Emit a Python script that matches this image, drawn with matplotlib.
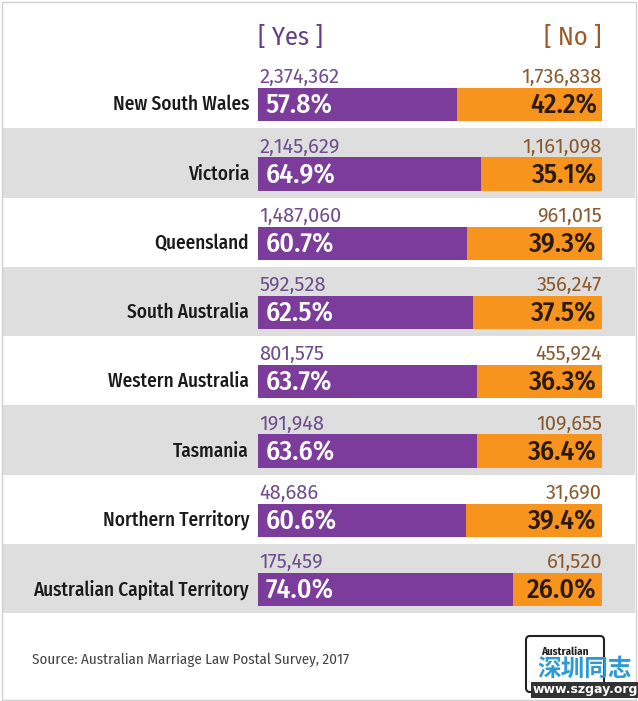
import matplotlib
matplotlib.use("Agg")
import matplotlib.pyplot as plt
from matplotlib.patches import Rectangle, FancyBboxPatch

states = ["New South Wales", "Victoria", "Queensland", "South Australia",
          "Western Australia", "Tasmania", "Northern Territory",
          "Australian Capital Territory"]
yes_pct = [57.8, 64.9, 60.7, 62.5, 63.7, 63.6, 60.6, 74.0]
no_pct = [42.2, 35.1, 39.3, 37.5, 36.3, 36.4, 39.4, 26.0]
yes_votes = ["2,374,362", "2,145,629", "1,487,060", "592,528",
             "801,575", "191,948", "48,686", "175,459"]
no_votes = ["1,736,838", "1,161,098", "961,015", "356,247",
            "455,924", "109,655", "31,690", "61,520"]

FONT = ["Fira Sans Condensed", "PT Sans Narrow", "DejaVu Sans"]
NUMFONT = ["Fira Sans", "DejaVu Sans"]
plt.rcParams["font.family"] = FONT

W, H = 638, 701
fig = plt.figure(figsize=(W / 100, H / 100), dpi=100)
fig.patch.set_facecolor("white")

PURPLE = "#7b3c9b"
ORANGE = "#f7941d"
GRAY = "#dedede"

top_px, bot_px = 59, 613
bx0, bx1 = 258, 602
n = len(states)

bg = fig.add_axes([0, 1 - bot_px / H, 1, (bot_px - top_px) / H])
bg.set_xlim(0, 1)
bg.set_ylim(n, 0)
bg.axis("off")
for i in range(n):
    if i % 2 == 1:
        bg.axhspan(i, i + 1, xmin=0.004, xmax=0.996, color=GRAY, lw=0)

ax = fig.add_axes([bx0 / W, 1 - bot_px / H, (bx1 - bx0) / W, (bot_px - top_px) / H])
ax.set_xlim(0, 100)
ax.set_ylim(n, 0)
ax.axis("off")
ax.patch.set_alpha(0)

yc = [i + 0.66 for i in range(n)]
ax.barh(yc, yes_pct, height=0.48, color=PURPLE, lw=0)
ax.barh(yc, no_pct, left=yes_pct, height=0.48, color=ORANGE, lw=0)

for i in range(n):
    ax.text(2.3, yc[i] + 0.02, f"{yes_pct[i]:.1f}%", color="white", fontsize=20,
            fontweight="medium", va="center", ha="left")
    ax.text(98.5, yc[i] + 0.02, f"{no_pct[i]:.1f}%", color="#2a1a0a", fontsize=20,
            fontweight="medium", va="center", ha="right")
    ax.text(0.4, i + 0.41, yes_votes[i], color="#6e4e8e", fontsize=14.5,
            family=NUMFONT, va="bottom", ha="left")
    ax.text(100, i + 0.41, no_votes[i], color="#8a5a2e", fontsize=14.5,
            family=NUMFONT, va="bottom", ha="right")
    ax.text(-2.6, yc[i], states[i], color="#1a1a1a", fontsize=13.8,
            fontweight="medium", va="center", ha="right", clip_on=False)

ax.text(0, -0.31, "[ Yes ]", color="#64408a", fontsize=19,
        va="center", ha="left")
ax.text(100, -0.31, "[ No ]", color="#9a5a2a", fontsize=19,
        va="center", ha="right")

fig.text(32 / W, 1 - 660 / H, "Source: Australian Marriage Law Postal Survey, 2017",
         color="#444444", fontsize=10.8, va="center", ha="left")

logo = FancyBboxPatch((526 / W, 1 - 692 / H), 78 / W, 56 / H,
                      boxstyle="round,pad=0,rounding_size=0.006",
                      transform=fig.transFigure, fill=False, ec="#222222", lw=1.5)
fig.add_artist(logo)
fig.text(565 / W, 1 - 652 / H, "Australian", color="#222222",
         fontsize=8, fontweight="bold", ha="center", va="center")
fig.text(585 / W, 1 - 669 / H, "深圳同志", color="#2a9ad8", fontsize=17,
         family=["Noto Sans CJK SC", "DejaVu Sans"], ha="center", va="center",
         fontweight="bold")
fig.text(585 / W, 1 - 690 / H, "www.szgay.org", color="white", fontsize=9,
         family=["DejaVu Sans"], ha="center", va="center", fontweight="bold",
         bbox=dict(facecolor="#333333", edgecolor="none", pad=1))

fig.add_artist(Rectangle((2 / W, 1 / H), (W - 4) / W, (H - 3) / H,
                         transform=fig.transFigure, fill=False,
                         ec="#d0d0d0", lw=1))

fig.savefig("out.png", dpi=100, facecolor="white")
